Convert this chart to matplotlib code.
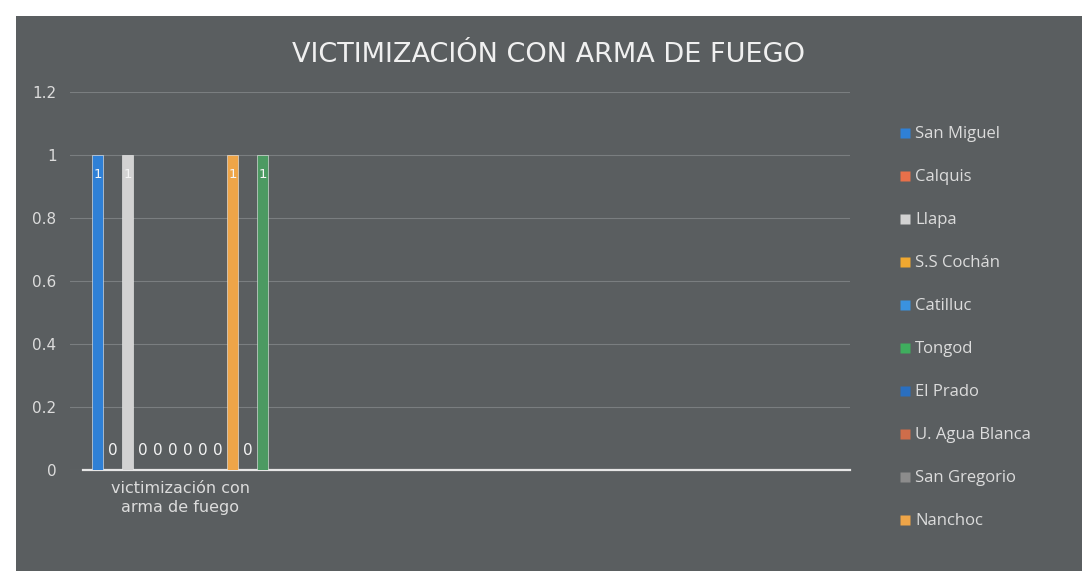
import matplotlib.pyplot as plt
from matplotlib.patches import Rectangle
from matplotlib.lines import Line2D

# one category, one series per district (last two series cut off in the legend)
category = 'victimización con\narma de fuego'
series_names = ['San Miguel', 'Calquis', 'Llapa', 'S.S Cochán', 'Catilluc',
                'Tongod', 'El Prado', 'U. Agua Blanca', 'San Gregorio', 'Nanchoc',
                'Serie 11', 'Serie 12']
values = [1, 0, 1, 0, 0, 0, 0, 0, 0, 1, 0, 1]
colors = ['#2f80d6', '#e8704a', '#d2d2d2', '#f0a830', '#3a92e0', '#3fae5e',
          '#2a6fc0', '#cf6d4a', '#8c8c8c', '#eea548', '#2b5f95', '#4c9a62']
legend_count = 10
yticks = [0, 0.2, 0.4, 0.6, 0.8, 1, 1.2]
ytick_labels = ['0', '0.2', '0.4', '0.6', '0.8', '1', '1.2']

bg = '#5a5e60'
txt = '#dcdcdc'

fig = plt.figure(figsize=(10.82, 5.71), dpi=100, facecolor='white')
fig.patches.append(Rectangle((0.015, 0.0), 0.985, 0.972, transform=fig.transFigure,
                             facecolor=bg, edgecolor='none', zorder=-5))

ax = fig.add_axes([0.065, 0.177, 0.721, 0.662])
ax.set_facecolor('none')

n = len(values)
step = 1.0
xs = [(i - (n - 1) / 2) * step for i in range(n)]
ax.bar(xs, values, width=0.72, color=colors, edgecolor='#f2f2f2', linewidth=0.4, zorder=3)

for x, v in zip(xs, values):
    if v > 0:
        ax.annotate(str(v), (x, v), xytext=(0, -14), textcoords='offset points',
                    ha='center', va='center', color='#f4f4f4', fontsize=9.5, zorder=4)
    else:
        ax.annotate(str(v), (x, v), xytext=(0, 14), textcoords='offset points',
                    ha='center', va='center', color='#f4f4f4', fontsize=11, zorder=4)

ax.set_xlim(-110 / 15, (780 - 110) / 15)
ax.set_ylim(0, 1.2)
ax.set_yticks(yticks)
ax.set_yticklabels(ytick_labels, color=txt, fontsize=11)
ax.set_xticks([0])
ax.set_xticklabels([category], color=txt, fontsize=11.5, linespacing=1.3)
ax.tick_params(axis='both', length=0, pad=10)
ax.tick_params(axis='x', pad=8)

ax.grid(axis='y', color='#7a7e80', linewidth=0.8, zorder=1)
ax.set_axisbelow(True)
for s in ['top', 'right', 'left']:
    ax.spines[s].set_visible(False)
ax.spines['bottom'].set_color('#e6e6e6')
ax.spines['bottom'].set_linewidth(1.6)
ax.spines['bottom'].set_bounds(xs[0] - 1, (780 - 110) / 15)

fig.text(0.507, 0.903, 'VICTIMIZACIÓN CON ARMA DE FUEGO', ha='center', va='center',
         color='#f0f0f0', fontsize=19.5, fontfamily='DejaVu Sans')

handles = [Line2D([], [], marker='s', linestyle='none', markersize=7,
                  markerfacecolor=c, markeredgecolor='none') for c in colors[:legend_count]]
leg = fig.legend(handles, series_names[:legend_count], loc='upper left',
                 bbox_to_anchor=(0.815, 0.805), frameon=False,
                 labelspacing=1.62, handletextpad=0.1, handlelength=1.0,
                 prop={'family': 'Open Sans', 'size': 12})
for t in leg.get_texts():
    t.set_color(txt)

fig.savefig('out.png', dpi=100, facecolor=fig.get_facecolor())
